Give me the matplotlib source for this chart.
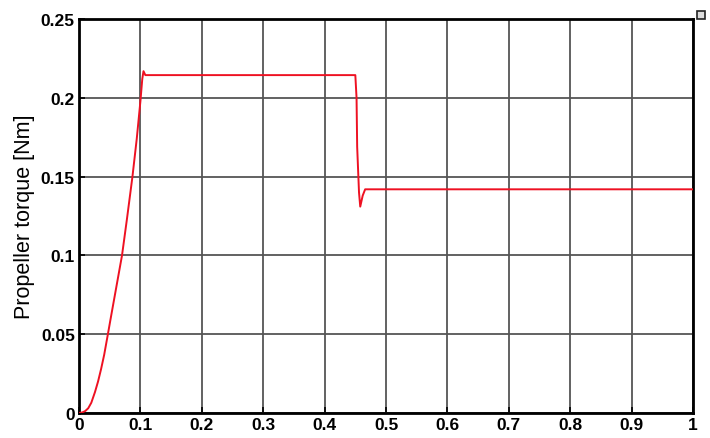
import matplotlib
matplotlib.use('Agg')
import matplotlib.pyplot as plt
from matplotlib.patches import Rectangle

plt.rcParams.update({'font.family': ['Liberation Sans', 'DejaVu Sans']})

# propeller torque step response
time_s = [0, 0.005, 0.010, 0.015, 0.020, 0.026, 0.031, 0.036, 0.041, 0.047,
          0.052, 0.058, 0.064, 0.070, 0.078, 0.087, 0.094, 0.100, 0.103,
          0.105, 0.108, 0.450, 0.452, 0.453, 0.456, 0.458, 0.462, 0.466, 1.0]
torque_nm = [0, 0.0003, 0.0012, 0.003, 0.0065, 0.0133, 0.020, 0.028, 0.037, 0.050,
             0.061, 0.074, 0.087, 0.100, 0.123, 0.150, 0.174, 0.198, 0.212,
             0.217, 0.2145, 0.2145, 0.200, 0.169, 0.140, 0.131, 0.138, 0.142, 0.142]

xticks = [0, 0.1, 0.2, 0.3, 0.4, 0.5, 0.6, 0.7, 0.8, 0.9, 1]
xtick_labels = ['0', '0.1', '0.2', '0.3', '0.4', '0.5', '0.6', '0.7', '0.8', '0.9', '1']
yticks = [0, 0.05, 0.1, 0.15, 0.2, 0.25]
ytick_labels = ['0', '0.05', '0.1', '0.15', '0.2', '0.25']

fig = plt.figure(figsize=(7.1, 4.39), dpi=100)
ax = fig.add_axes([0.1113, 0.057, 0.8648, 0.897])

ax.plot(time_s, torque_nm, color='#ee1122', linewidth=1.4, zorder=3)

ax.set_xlim(0, 1)
ax.set_ylim(0, 0.25)
ax.set_xticks(xticks)
ax.set_xticklabels(xtick_labels, fontweight='bold')
ax.set_yticks(yticks)
ax.set_yticklabels(ytick_labels, fontweight='bold')
ax.tick_params(direction='in', length=4, width=1.2, labelsize=12.5, pad=3)
ax.grid(True, color='#555555', linewidth=1.3, linestyle='-')
for sp in ax.spines.values():
    sp.set_linewidth(2)
ax.set_ylabel('Propeller torque [Nm]', fontsize=15.5, labelpad=4)

# small marker box at the top-right corner
fig.patches.append(Rectangle((0.982, 0.955), 0.011, 0.017, transform=fig.transFigure,
                             facecolor='#dddddd', edgecolor='#222222', linewidth=1.2))

fig.savefig('out.png', dpi=100)
